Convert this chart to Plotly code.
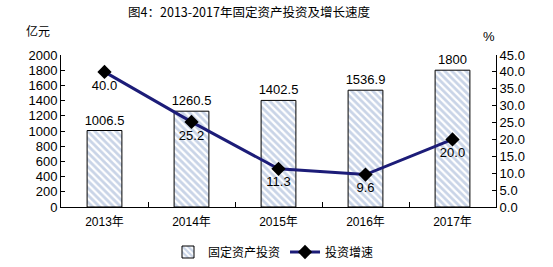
import plotly.graph_objects as go

years = ["2013年", "2014年", "2015年", "2016年", "2017年"]
investment = [1006.5, 1260.5, 1402.5, 1536.9, 1800]
investment_labels = ["1006.5", "1260.5", "1402.5", "1536.9", "1800"]
growth = [40.0, 25.2, 11.3, 9.6, 20.0]
growth_labels = ["40.0", "25.2", "11.3", "9.6", "20.0"]

FONT = "Liberation Sans, Arial, Noto Sans CJK SC"

fig = go.Figure()
fig.add_trace(go.Bar(
    x=years, y=investment, name="固定资产投资",
    width=0.4,
    marker=dict(color="white", line=dict(color="black", width=1),
                pattern=dict(shape="\\", fgcolor="#93AACF", bgcolor="white", size=5, solidity=0.55)),
    text=investment_labels, textposition="outside", cliponaxis=False,
    constraintext="none",
    textfont=dict(size=13, color="black", family=FONT),
))
fig.add_trace(go.Scatter(
    x=years, y=growth, name="投资增速", yaxis="y2",
    mode="lines+markers+text",
    line=dict(color="#1C1C78", width=3),
    marker=dict(symbol="diamond", color="black", size=11),
    text=growth_labels, textposition="bottom center",
    textfont=dict(size=13, color="black", family=FONT),
    cliponaxis=False,
))

fig.update_layout(
    width=553, height=267,
    margin=dict(l=61, r=57, t=55, b=60, autoexpand=False),
    paper_bgcolor="white", plot_bgcolor="white",
    font=dict(family=FONT, size=13, color="black"),
    title=dict(text="图4：2013-2017年固定资产投资及增长速度", x=249 / 553, xanchor="center",
               xref="container", y=1 - 13 / 267, yanchor="middle", yref="container",
               font=dict(family="Noto Sans CJK SC", size=12.5, color="black")),
    showlegend=True,
    legend=dict(orientation="h", x=168 / 553, xanchor="left", xref="container",
                y=(267 - 252) / 267, yanchor="middle", yref="container",
                font=dict(family="Noto Sans CJK SC", size=12), itemwidth=30,
                traceorder="normal"),
    bargap=0.6,
    xaxis=dict(showline=True, linecolor="black", linewidth=1, ticks="inside",
               tickson="boundaries", ticklen=5, tickcolor="black",
               ticklabelstandoff=4, tickfont=dict(size=12)),
    yaxis=dict(range=[0, 2000], dtick=200, showline=True, linecolor="black",
               ticks="inside", ticklen=4, tickcolor="black", showgrid=False,
               zeroline=False, tickfont=dict(size=13)),
    yaxis2=dict(range=[0, 45], dtick=5, tickformat=".1f", overlaying="y", side="right",
                showline=True, linecolor="black", ticks="inside", ticklen=4,
                tickcolor="black", showgrid=False, zeroline=False, tickfont=dict(size=13)),
    annotations=[
        dict(text="亿元", xref="paper", yref="paper", x=(38 - 61) / 435, y=(207 - 31) / 152,
             showarrow=False, font=dict(family="Noto Sans CJK SC", size=12), xanchor="center", yanchor="middle"),
        dict(text="%", xref="paper", yref="paper", x=(489 - 61) / 435, y=(207 - 37) / 152,
             showarrow=False, font=dict(size=13), xanchor="center", yanchor="middle"),
    ],
)

fig.write_html("out.html")
